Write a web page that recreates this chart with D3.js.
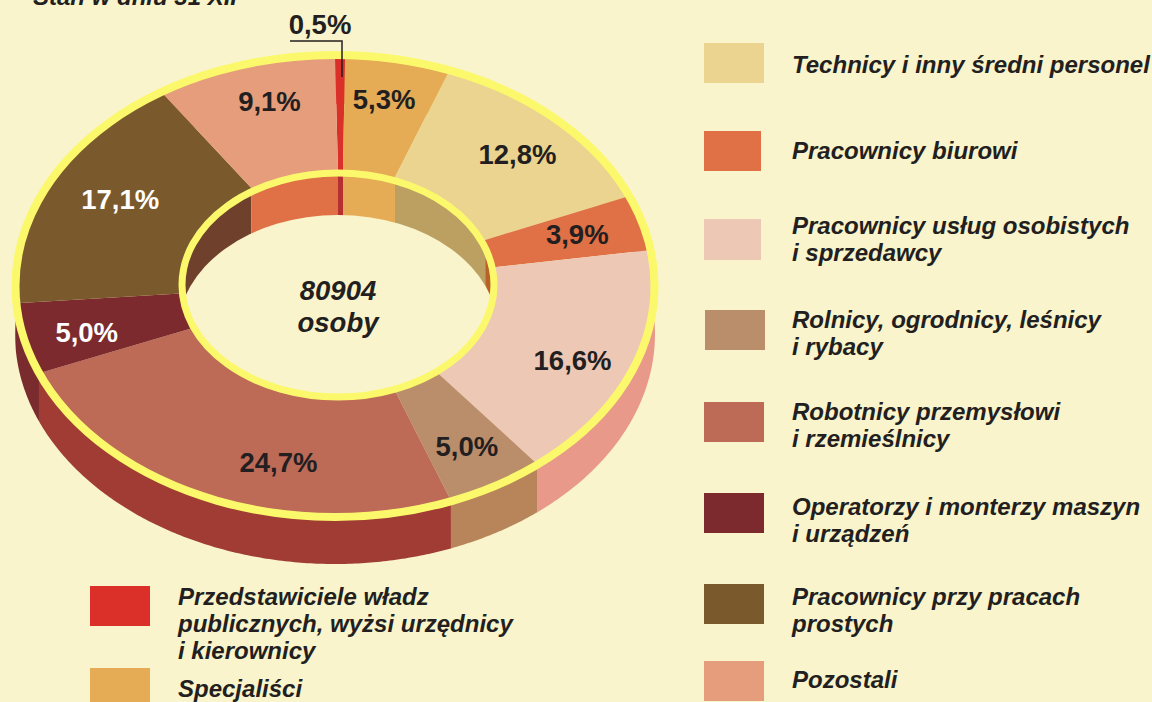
<!DOCTYPE html>
<html lang="pl">
<head>
<meta charset="utf-8">
<title>Bezrobotni</title>
<script src="https://cdnjs.cloudflare.com/ajax/libs/d3/7.8.5/d3.min.js"></script>
<style>
  html, body { margin: 0; padding: 0; background: #F9F4CB; overflow: hidden; }
  text { font-family: "Liberation Sans", Arial, sans-serif; font-weight: bold; fill: #231F20; }
  .legend text { font-style: italic; font-size: 24px; }
</style>
</head>
<body>
<svg id="chart" width="1152" height="702"></svg>
<script>
// values, clockwise from the top
const categoryLines = [
  ["Przedstawiciele władz", "publicznych, wyżsi urzędnicy", "i kierownicy"],
  ["Specjaliści"],
  ["Technicy i inny średni personel"],
  ["Pracownicy biurowi"],
  ["Pracownicy usług osobistych", "i sprzedawcy"],
  ["Rolnicy, ogrodnicy, leśnicy", "i rybacy"],
  ["Robotnicy przemysłowi", "i rzemieślnicy"],
  ["Operatorzy i monterzy maszyn", "i urządzeń"],
  ["Pracownicy przy pracach", "prostych"],
  ["Pozostali"]
];
const shares = [0.5, 5.3, 12.8, 3.9, 16.6, 5.0, 24.7, 5.0, 17.1, 9.1];
const topColors = ["#DB302A", "#E5AB55", "#EBD48F", "#E07045", "#EDC8B5", "#BB8E6B", "#BD6A57", "#7C2A2E", "#7A5A2C", "#E69D7B"];
const outerWallColors = ["#DB302A", "#E5AB55", "#EBD48F", "#E07045", "#E8998A", "#B88459", "#A03C33", "#7A2B2E", "#7A5A2C", "#E69D7B"];
const innerWallColors = ["#B5302F", "#E5AB55", "#BBA062", "#B8622A", "#EDC8B5", "#BB8E6B", "#BD6A57", "#7C2A2E", "#6F402C", "#E07045"];
const whiteLabels = [false, false, false, false, false, false, false, true, true, false];

const svg = d3.select("#chart");

// ring geometry
const outer = { cx: 335, cy: 286, rx: 320, ry: 230 };
const inner = { cx: 338, cy: 285, rx: 156, ry: 112 };
const sliceInner = { cx: 338, cy: 285, rx: 158, ry: 114 };
const wallInner = { cx: 338, cy: 285, rx: 160, ry: 116 };
const outerDepth = 48;
const innerDepth = 46;
const bg = "#F9F4CB";
const ringColor = "#FBF96B";

const arcs = d3.pie().sort(null).value(d => d).startAngle(0).endAngle(2 * Math.PI)(shares);
const line = d3.line();

function pt(ring, a, dy = 0) {
  return [ring.cx + ring.rx * Math.sin(a), ring.cy - ring.ry * Math.cos(a) + dy];
}
function sweep(ring, a0, a1, dy = 0) {
  const n = Math.max(2, Math.ceil((a1 - a0) / 0.01));
  return d3.range(n + 1).map(i => pt(ring, a0 + (a1 - a0) * i / n, dy));
}
function band(r0, a0, a1, dy0, r1, dy1) {
  return line(sweep(r0, a0, a1, dy0).concat(sweep(r1, a0, a1, dy1).reverse())) + "Z";
}

svg.append("rect").attr("width", 1152).attr("height", 702).attr("fill", bg);

// title, cut by the top of the picture just like the reference
svg.append("text").attr("x", 33).attr("y", 5)
  .attr("font-size", 24).attr("font-style", "italic").text("Stan w dniu 31 XII");

// outer wall
svg.append("g").selectAll("path").data(arcs).join("path")
  .attr("d", d => band(outer, d.startAngle, d.endAngle, 0, outer, outerDepth))
  .attr("fill", d => outerWallColors[d.index]);

// top of the ring
svg.append("g").selectAll("path").data(arcs).join("path")
  .attr("d", d => band(outer, d.startAngle, d.endAngle, 0, sliceInner, 0))
  .attr("fill", d => topColors[d.index]);

// hole: inner wall seen through it, then the floor
svg.append("clipPath").attr("id", "hole").append("ellipse")
  .attr("cx", inner.cx).attr("cy", inner.cy).attr("rx", inner.rx).attr("ry", inner.ry);
const hole = svg.append("g").attr("clip-path", "url(#hole)");
hole.selectAll("path").data(arcs).join("path")
  .attr("d", d => band(wallInner, d.startAngle, d.endAngle, 0, wallInner, innerDepth + 4))
  .attr("fill", d => innerWallColors[d.index]);
hole.append("ellipse")
  .attr("cx", inner.cx).attr("cy", inner.cy + innerDepth).attr("rx", inner.rx + 4).attr("ry", inner.ry + 4)
  .attr("fill", bg);

// yellow rims
svg.append("ellipse").attr("cx", outer.cx).attr("cy", outer.cy).attr("rx", outer.rx - 0.5).attr("ry", outer.ry + 1)
  .attr("fill", "none").attr("stroke", ringColor).attr("stroke-width", 8);
svg.append("ellipse").attr("cx", inner.cx).attr("cy", inner.cy).attr("rx", inner.rx).attr("ry", inner.ry)
  .attr("fill", "none").attr("stroke", ringColor).attr("stroke-width", 7);

// percent labels, placed from the slice middle with a small nudge
const labelRadius = { cx: 336, cy: 286, rx: 250, ry: 180 };
const labelNudge = [[0, 0], [-1, -10], [8, -1], [1, -1], [3, 11], [5, 5], [41, 12], [-6, 6], [8, -6], [4, -11]];
const fmt = v => v.toFixed(1).replace(".", ",") + "%";
svg.append("g").selectAll("text").data(arcs.filter(d => d.index > 0)).join("text")
  .attr("text-anchor", "middle").attr("font-size", 27.5)
  .attr("x", d => pt(labelRadius, (d.startAngle + d.endAngle) / 2)[0] + labelNudge[d.index][0])
  .attr("y", d => pt(labelRadius, (d.startAngle + d.endAngle) / 2)[1] + labelNudge[d.index][1] + 9)
  .style("fill", d => whiteLabels[d.index] ? "#fff" : "#231F20")
  .text(d => fmt(d.value));

// the smallest slice gets a leader line
svg.append("text").attr("x", 320).attr("y", 34).attr("text-anchor", "middle").attr("font-size", 27.5).text(fmt(shares[0]));
svg.append("path").attr("d", "M290,41H342V77").attr("fill", "none").attr("stroke", "#231F20").attr("stroke-width", 1.5);

// middle text
svg.append("text").attr("x", 338).attr("y", 300).attr("text-anchor", "middle").attr("font-size", 27.5).attr("font-style", "italic").text("80904");
svg.append("text").attr("x", 338).attr("y", 332).attr("text-anchor", "middle").attr("font-size", 27.5).attr("font-style", "italic").text("osoby");

// legend layout, same order as the categories
const swatchX = [90, 90, 704, 704, 704, 705, 704, 704, 704, 704];
const swatchY = [586, 668, 43, 131, 219, 310, 402, 493, 584, 661];
const swatchW = [60, 60, 60, 57, 57, 60, 60, 60, 60, 60];
const swatchH = [40, 36, 40, 40, 41, 40, 40, 40, 40, 40];
const firstBaseline = [605, 697, 73, 159, 234, 328, 420, 515, 605, 688];

const legend = svg.append("g").attr("class", "legend").selectAll("g").data(categoryLines).join("g");
legend.append("rect")
  .attr("x", (d, i) => swatchX[i]).attr("y", (d, i) => swatchY[i])
  .attr("width", (d, i) => swatchW[i]).attr("height", (d, i) => swatchH[i])
  .attr("fill", (d, i) => topColors[i]);
legend.each(function(lines, c) {
  d3.select(this).selectAll("text").data(lines).join("text")
    .attr("x", c < 2 ? 178 : 792)
    .attr("y", (t, i) => firstBaseline[c] + i * 27)
    .text(t => t);
});
</script>
</body>
</html>
